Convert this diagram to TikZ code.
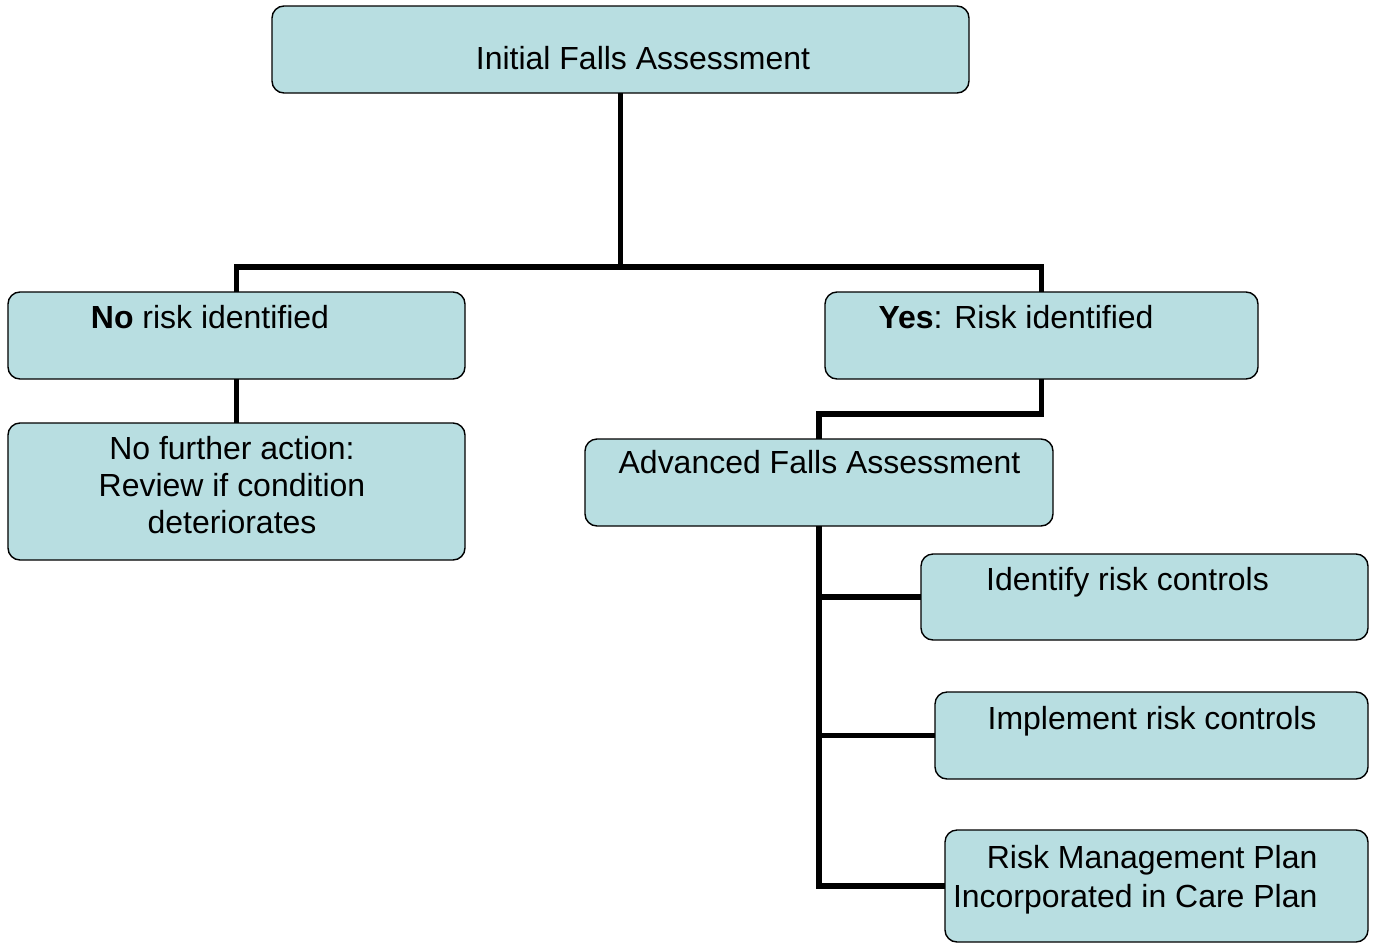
\documentclass[tikz,border=0pt]{standalone}
\usepackage{fontspec}
\setmainfont{Liberation Sans}
\usepackage{tikz}
\usetikzlibrary{positioning}

\definecolor{boxfill}{HTML}{B8DEE1}

\begin{document}
\begin{tikzpicture}[semithick,
    box/.style={draw=black, fill=boxfill, rounded corners=0.24cm, line width=0.8pt,
      inner sep=0pt, outer sep=0pt},
    txt/.style={anchor=base, inner sep=0pt, font=\fontsize{18.2}{21}\selectfont},
    link/.style={draw=black, line width=3pt}]
      \useasboundingbox (0,0) rectangle (27.54,-18.9);
      % boxes
      \node [box, minimum width=13.94cm, minimum height=1.74cm] (ifa) at (12.41,-0.99) {};
      \node [box, minimum width=9.14cm, minimum height=1.74cm] (norisk) at (4.73,-6.71) {};
      \node [box, minimum width=8.66cm, minimum height=1.74cm] (yesrisk) at (20.83,-6.71) {};
      \node [box, minimum width=9.14cm, minimum height=2.74cm] (nofurther) at (4.73,-9.83) {};
      \node [box, minimum width=9.36cm, minimum height=1.74cm] (afa) at (16.38,-9.65) {};
      \node [box, minimum width=8.94cm, minimum height=1.72cm] (identify) at (22.89,-11.94) {};
      \node [box, minimum width=8.66cm, minimum height=1.74cm] (implement) at (23.03,-14.71) {};
      \node [box, minimum width=8.46cm, minimum height=2.24cm] (rmp) at (23.13,-17.72) {};
      % texts (base of a multi-line text is its last line)
      \node [txt] (ifaT) at (12.86,-1.38) {Initial Falls Assessment};
      \node [txt] (noriskT) at (4.20,-6.56) {\textbf{No} risk identified};
      \node [txt] (yesriskT) at (20.32,-6.56) {\textbf{Yes}: Risk identified};
      \node [txt, align=center] (nofurtherT) at (4.64,-10.66) {No further action:\\Review if condition\\deteriorates};
      \node [txt] (afaT) at (16.39,-9.46) {Advanced Falls Assessment};
      \node [txt] (identifyT) at (22.55,-11.80) {Identify risk controls};
      \node [txt] (implementT) at (23.04,-14.58) {Implement risk controls};
      \node [txt, align=right, anchor=base east] (rmpT) at (26.36,-18.14) {Risk Management Plan\\[1.2pt]Incorporated in Care Plan};
      % connectors
      \coordinate (split) at ([yshift=-3.48cm]ifa.south);
      \coordinate (yesjoin) at ([yshift=-0.7cm]yesrisk.south);
      \path [link]
      (ifa.south) -- (split)
      (norisk.north) |- (split) -| (yesrisk.north)
      (norisk.south) -- (nofurther.north)
      (yesrisk.south) -- (yesjoin) -| (afa.north)
      (afa.south) |- (identify.west)
      (afa.south) |- (implement.west)
      (afa.south) |- (rmp.west)
      ;
\end{tikzpicture}
\end{document}
